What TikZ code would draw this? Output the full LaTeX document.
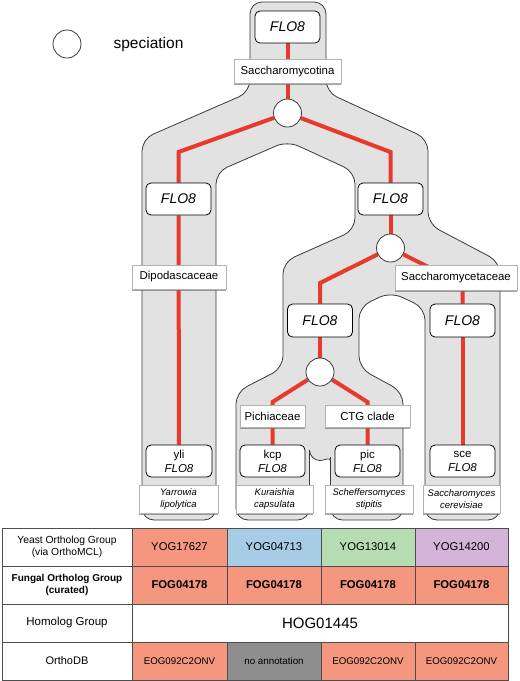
\documentclass[tikz,border=0pt]{standalone}
\usepackage{fontspec}
\setmainfont{Liberation Sans}
\usepackage{xcolor}
\usetikzlibrary{positioning, backgrounds, shadows}
\definecolor{FloRed}{HTML}{E8392B}
\definecolor{BandGray}{HTML}{E2E2E2}
\definecolor{BandEdge}{HTML}{3A3A3A}
\definecolor{Salmon}{HTML}{F4977E}
\definecolor{SkyBlue}{HTML}{A7CCE5}
\definecolor{MintGreen}{HTML}{B6DDB1}
\definecolor{Lilac}{HTML}{D4B5D9}
\definecolor{MidGray}{HTML}{8E8E8E}
\definecolor{CellEdge}{HTML}{4D4D4D}

\begin{document}
\begin{tikzpicture}[
    x=1pt, y=-1pt,
    band/.style={fill=BandGray, draw=BandEdge, line width=0.8pt, rounded corners=12pt},
    gene/.style={rectangle, rounded corners=5pt, draw=black, fill=white, line width=0.8pt,
                 minimum width=65pt, minimum height=32pt, inner sep=0pt,
                 font=\fontsize{14}{16}\selectfont\itshape},
    leaf/.style={gene, align=center, font=\fontsize{11.5}{14}\selectfont},
    taxon/.style={rectangle, draw=gray!60, fill=white, line width=0.5pt, inner sep=0pt,
                  minimum height=24pt, font=\fontsize{11.4}{13}\selectfont,
                  drop shadow={shadow xshift=0pt, shadow yshift=-1.5pt, opacity=0.6, fill=black!60}},
    species/.style={taxon, minimum height=28pt, align=center,
                    font=\fontsize{9.5}{12}\selectfont\itshape},
    spec/.style={circle, draw=BandEdge, fill=white, line width=0.8pt, minimum size=28pt, inner sep=0pt},
    gline/.style={draw=FloRed, line width=4pt},
    cell/.style={rectangle, draw=CellEdge, line width=0.6pt, minimum height=38pt, inner sep=0pt,
                 align=center, font=\fontsize{11.3}{13}\selectfont}
]
    \useasboundingbox (0,0) rectangle (520,681);

    % Legend
    \node[spec] (legend) at (67,44) {};
    \node[right=32pt of legend, inner sep=0pt, font=\fontsize{15.5}{18}\selectfont] (legtext) {speciation};

    % Gene tree nodes
    \node[gene] (flo0) at (287.5,27) {FLO8};
    \node[taxon, minimum width=107pt] (sacchina) at (287.5,71.5) {Saccharomycotina};
    \node[spec] (sp1) at (287.5,113) {};
    \coordinate (bL) at (178.5,152);
    \coordinate (bR) at (390.5,152);
    \node[gene] (floL) at (178.5,199) {FLO8};
    \node[gene] (floM) at (390.5,199) {FLO8};
    \node[taxon, minimum width=94pt] (dipo) at (179,277) {Dipodascaceae};
    \node[spec] (sp2) at (390.5,248) {};
    \node[taxon, minimum width=122pt, minimum height=25pt] (saccet) at (456,277.5) {Saccharomycetaceae};
    \coordinate (bP) at (320,283);
    \coordinate (bS) at (462.5,284);
    \node[gene, minimum height=33pt] (floP) at (320,320.5) {FLO8};
    \node[gene, minimum height=33pt] (floS) at (462.5,320.5) {FLO8};
    \node[spec] (sp3) at (320,372) {};
    \coordinate (bK) at (272.5,402);
    \coordinate (bC) at (367.5,402);
    \node[taxon, minimum width=65pt, minimum height=22pt] (pichia) at (272.5,416) {Pichiaceae};
    \node[taxon, minimum width=85pt, minimum height=22pt] (ctg) at (367.5,416) {CTG clade};

    % Leaves
    \node[leaf, minimum width=66pt] (yli) at (179,461) {yli\\\textit{FLO8}};
    \node[leaf] (kcp) at (272.5,461) {kcp\\\textit{FLO8}};
    \node[leaf] (pic) at (367.5,461) {pic\\\textit{FLO8}};
    \node[leaf] (sce) at (462.5,461) {sce\\\textit{FLO8}};

    % Species labels
    \node[species, minimum width=79pt] (yar) at (178.5,499) {Yarrowia\\lipolytica};
    \node[species, minimum width=77pt] (kur) at (274.5,499) {Kuraishia\\capsulata};
    \node[species, minimum width=88pt] (sch) at (369,499) {Scheffersomyces\\stipitis};
    \node[species, minimum width=77pt] (scer) at (461.5,499) {Saccharomyces\\cerevisiae};

    \begin{scope}[on background layer]
        % Species tree band
        \path[band] (288,2) -- (326,2) -- (326,92) -- (428,139) -- (428,224) -- (500,262)
            -- (500,520) -- (425,520) -- (425,308) -- (390.5,292) -- (359,307) -- (359,368)
            -- (403,392) -- (403,520) -- (330.5,520) -- (330.5,450)
            [sharp corners] arc[start angle=0, end angle=-180, radius=10.5pt]
            [rounded corners=12pt] -- (309.5,520) -- (236,520) -- (236,392) -- (283,368)
            -- (283,262) -- (355,230) -- (355,172) -- (287.5,141) -- (216,172) -- (216,520)
            -- (142,520) -- (142,139) -- (250,92) -- (250,2) -- cycle;

        % Gene lineages
        \draw[gline] (flo0) -- (sp1);
        \draw[gline] (sp1) -- (bL) -- (floL);
        \draw[gline] (sp1) -- (bR) -- (floM);
        \draw[gline] (floL) -- (yli);
        \draw[gline] (floM) -- (sp2);
        \draw[gline] (sp2) -- (bP) -- (floP);
        \draw[gline] (sp2) -- (bS) -- (floS);
        \draw[gline] (floS) -- (sce);
        \draw[gline] (floP) -- (sp3);
        \draw[gline] (sp3) -- (bK) -- (kcp);
        \draw[gline] (sp3) -- (bC) -- (pic);
    \end{scope}

    % Table
    \node[cell, minimum width=130pt, font=\fontsize{10.3}{12.5}\selectfont] (rowyog) at (67,547) {Yeast Ortholog Group\\(via OrthoMCL)};
    \node[cell, minimum width=95pt, fill=Salmon] (yog1) at (179.5,547) {YOG17627};
    \node[cell, minimum width=94pt, fill=SkyBlue] (yog2) at (274,547) {YOG04713};
    \node[cell, minimum width=94pt, fill=MintGreen] (yog3) at (368,547) {YOG13014};
    \node[cell, minimum width=93pt, fill=Lilac] (yog4) at (461.5,547) {YOG14200};

    \node[cell, minimum width=130pt, font=\fontsize{10}{12.5}\selectfont\bfseries] (rowfog) at (67,585) {Fungal Ortholog Group\\(curated)};
    \node[cell, minimum width=95pt, fill=Salmon, font=\fontsize{11.3}{13}\selectfont\bfseries] (fog1) at (179.5,585) {FOG04178};
    \node[cell, minimum width=94pt, fill=Salmon, font=\fontsize{11.3}{13}\selectfont\bfseries] (fog2) at (274,585) {FOG04178};
    \node[cell, minimum width=94pt, fill=Salmon, font=\fontsize{11.3}{13}\selectfont\bfseries] (fog3) at (368,585) {FOG04178};
    \node[cell, minimum width=93pt, fill=Salmon, font=\fontsize{11.3}{13}\selectfont\bfseries] (fog4) at (461.5,585) {FOG04178};

    \node[cell, minimum width=130pt, font=\fontsize{11.5}{13}\selectfont] (rowhog) at (67,623) {Homolog Group};
    \node[cell, minimum width=376pt, fill=white, font=\fontsize{15}{17}\selectfont] (hog) at (320,623) {HOG01445};

    \node[cell, minimum width=130pt, font=\fontsize{11}{13}\selectfont] (rowodb) at (67,661) {OrthoDB};
    \node[cell, minimum width=95pt, fill=Salmon, font=\fontsize{9.7}{12}\selectfont] (odb1) at (179.5,661) {EOG092C2ONV};
    \node[cell, minimum width=94pt, fill=MidGray, font=\fontsize{9.8}{12}\selectfont] (odb2) at (274,661) {no annotation};
    \node[cell, minimum width=94pt, fill=Salmon, font=\fontsize{9.7}{12}\selectfont] (odb3) at (368,661) {EOG092C2ONV};
    \node[cell, minimum width=93pt, fill=Salmon, font=\fontsize{9.7}{12}\selectfont] (odb4) at (461.5,661) {EOG092C2ONV};
\end{tikzpicture}
\end{document}
